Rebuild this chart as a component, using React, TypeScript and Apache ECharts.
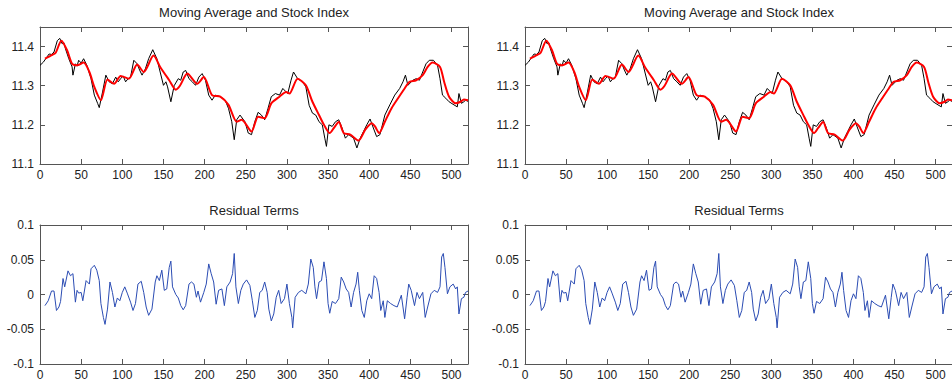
import React, { useEffect, useRef } from "react";
import * as echarts from "echarts";

// Stock index (black): [t, value]
const STOCK: [number, number][] = [
  [0, 11.352], [4, 11.36], [8, 11.372], [11, 11.381], [14, 11.38], [17, 11.386], [21, 11.415], [24, 11.421],
  [27, 11.407], [29, 11.41], [31, 11.394], [35, 11.369], [39, 11.348], [40, 11.327], [43, 11.356], [45, 11.35],
  [47, 11.365], [50, 11.358], [53, 11.369], [57, 11.352], [62, 11.318], [66, 11.276], [70, 11.255], [72, 11.244],
  [76, 11.284], [80, 11.327], [84, 11.31], [88, 11.305], [92, 11.322], [95, 11.31], [98, 11.318], [101, 11.325],
  [104, 11.31], [107, 11.318], [110, 11.322], [114, 11.365], [118, 11.356], [121, 11.34], [124, 11.327], [128, 11.343],
  [132, 11.369], [137, 11.392], [142, 11.369], [146, 11.335], [150, 11.301], [153, 11.31], [155, 11.297], [159, 11.259],
  [163, 11.3], [168, 11.318], [171, 11.314], [174, 11.335], [177, 11.339], [181, 11.318], [185, 11.31], [189, 11.301],
  [193, 11.322], [197, 11.331], [201, 11.314], [205, 11.276], [209, 11.263], [213, 11.276], [219, 11.272], [225, 11.263],
  [229, 11.242], [233, 11.208], [236, 11.162], [239, 11.213], [243, 11.225], [249, 11.208], [253, 11.179], [257, 11.175],
  [261, 11.208], [265, 11.232], [269, 11.225], [273, 11.213], [277, 11.242], [281, 11.272], [286, 11.28], [291, 11.276],
  [295, 11.293], [301, 11.28], [305, 11.314], [308, 11.335], [313, 11.318], [319, 11.31], [323, 11.297], [327, 11.25],
  [331, 11.23], [335, 11.225], [339, 11.208], [343, 11.2], [346, 11.166], [348, 11.145], [351, 11.2], [355, 11.196],
  [359, 11.208], [363, 11.213], [367, 11.192], [371, 11.166], [375, 11.175], [381, 11.166], [385, 11.141], [389, 11.166],
  [393, 11.183], [397, 11.2], [401, 11.215], [405, 11.192], [409, 11.17], [413, 11.175], [419, 11.225], [425, 11.251],
  [431, 11.276], [437, 11.293], [441, 11.31], [444, 11.327], [447, 11.301], [453, 11.314], [457, 11.318], [461, 11.314],
  [465, 11.335], [469, 11.356], [473, 11.365], [478, 11.365], [483, 11.352], [486, 11.318], [489, 11.276], [493, 11.268],
  [497, 11.259], [503, 11.251], [507, 11.246], [509, 11.28], [512, 11.255], [515, 11.259], [517, 11.263], [520, 11.26],
];

// Moving average (red)
const MOVING_AVG: [number, number][] = [
  [6, 11.369], [15, 11.379], [19, 11.384], [26, 11.415], [33, 11.39], [39, 11.356], [45, 11.352], [53, 11.359],
  [60, 11.335], [66, 11.297], [74, 11.263], [82, 11.316], [90, 11.305], [98, 11.325], [108, 11.318], [118, 11.354],
  [126, 11.335], [138, 11.377], [146, 11.348], [157, 11.314], [165, 11.29], [170, 11.3], [179, 11.331], [191, 11.305],
  [199, 11.322], [209, 11.276], [219, 11.272], [229, 11.251], [239, 11.208], [245, 11.213], [257, 11.183], [265, 11.221],
  [273, 11.217], [281, 11.255], [291, 11.272], [299, 11.284], [303, 11.28], [313, 11.318], [323, 11.301], [331, 11.259],
  [339, 11.225], [345, 11.2], [352, 11.179], [357, 11.192], [363, 11.207], [369, 11.179], [377, 11.175], [387, 11.16],
  [395, 11.187], [403, 11.204], [407, 11.196], [412, 11.179], [419, 11.208], [427, 11.242], [435, 11.268], [443, 11.293],
  [449, 11.31], [457, 11.314], [465, 11.327], [471, 11.348], [477, 11.359], [486, 11.348], [491, 11.31], [497, 11.272],
  [505, 11.255], [511, 11.259], [515, 11.265], [520, 11.263],
];

// Residual terms (blue)
const RESIDUALS: [number, number][] = [
  [6, -0.016], [10, -0.009], [14, 0.005], [17, 0.005], [20, -0.023], [23, -0.018], [25, -0.01], [28, 0.023],
  [30, 0.011], [34, 0.034], [37, 0.027], [40, 0.03], [43, -0.011], [45, 0.006], [47, 0.002], [50, 0.003],
  [52, -0.009], [56, 0.02], [60, 0.015], [62, 0.037], [66, 0.042], [69, 0.035], [72, 0.02], [74, -0.013],
  [77, -0.033], [79, -0.043], [82, -0.021], [85, 0.018], [88, 0.003], [91, -0.018], [94, -0.005], [97, -0.009],
  [100, 0.003], [103, 0.011], [106, 0.002], [110, -0.011], [113, -0.023], [116, -0.013], [119, 0.015], [123, 0.019],
  [126, 0.003], [129, -0.018], [132, -0.03], [136, -0.021], [140, 0.018], [142, 0.027], [145, 0.02], [148, 0.035],
  [151, 0.006], [154, 0.008], [157, 0.039], [159, 0.048], [161, 0.011], [165, 0.0], [168, -0.005], [171, -0.016],
  [174, -0.022], [177, -0.016], [181, 0.015], [184, 0.018], [187, 0.015], [190, -0.004], [192, 0.005], [195, -0.011],
  [199, 0.003], [202, 0.015], [205, 0.044], [208, 0.03], [211, 0.018], [214, -0.014], [217, 0.006], [221, 0.008],
  [224, -0.016], [227, 0.011], [231, 0.018], [234, 0.03], [236, 0.059], [238, 0.011], [241, -0.013], [244, 0.006],
  [247, 0.015], [251, 0.021], [255, 0.013], [258, -0.009], [261, -0.033], [264, -0.023], [267, 0.003], [270, 0.006],
  [273, 0.018], [276, 0.003], [278, -0.021], [281, -0.038], [284, -0.028], [287, -0.004], [290, 0.006], [293, -0.013],
  [297, -0.006], [300, 0.015], [303, -0.013], [306, -0.033], [307, -0.048], [310, -0.004], [314, 0.003], [318, 0.006],
  [323, 0.001], [326, 0.015], [329, 0.051], [332, 0.039], [334, 0.011], [336, -0.006], [339, 0.018], [342, 0.02],
  [345, 0.047], [348, 0.023], [350, -0.013], [352, -0.027], [355, -0.01], [359, -0.013], [363, -0.006], [366, 0.025],
  [369, 0.018], [372, 0.008], [375, 0.003], [378, -0.018], [381, 0.003], [384, 0.015], [386, 0.032], [388, 0.006],
  [391, -0.023], [394, -0.033], [397, -0.009], [400, 0.001], [403, -0.006], [406, 0.027], [409, 0.023], [412, 0.003],
  [414, -0.023], [417, -0.009], [419, -0.033], [422, -0.009], [426, -0.013], [430, -0.016], [434, -0.018], [439, -0.001],
  [443, -0.035], [446, -0.004], [448, 0.015], [451, 0.006], [455, -0.016], [458, 0.003], [461, -0.006], [465, 0.003],
  [468, -0.033], [471, -0.018], [475, 0.001], [479, 0.006], [483, 0.003], [486, 0.011], [488, 0.054], [490, 0.059],
  [492, 0.039], [495, 0.001], [498, 0.011], [502, 0.015], [505, 0.008], [507, 0.011], [509, -0.028], [512, -0.006],
  [515, -0.004], [517, 0.003], [520, 0.005],
];

const TITLE_TOP = "Moving Average and Stock Index";
const TITLE_BOTTOM = "Residual Terms";

export default function App() {
  const ref = useRef<HTMLDivElement>(null);
  useEffect(() => {
    if (!ref.current) return;
    const chart = echarts.init(ref.current, undefined, { renderer: "svg" });
    const font = "Liberation Sans, Arial, sans-serif";
    const axisColor = "#555";
    const textColor = "#222";
    const lefts = [40, 525];
    const W = 428;
    const rows = [
      { top: 27, height: 137, min: 11.1, max: 11.45, interval: 0.1 },
      { top: 225, height: 139, min: -0.1, max: 0.1, interval: 0.05 },
    ];
    const grid: any[] = [];
    const xAxis: any[] = [];
    const yAxis: any[] = [];
    const series: any[] = [];
    const graphic: any[] = [];
    let gi = 0;
    lefts.forEach((left) => {
      rows.forEach((r, ri) => {
        grid.push({ left, top: r.top, width: W, height: r.height, containLabel: false });
        const baseX = {
          gridIndex: gi, type: "value", min: 0, max: 520, interval: 50,
          axisLine: { show: true, onZero: false, lineStyle: { color: axisColor, width: 1 } },
          axisTick: { show: true, inside: true, length: 5, lineStyle: { color: axisColor } },
          splitLine: { show: false },
        };
        xAxis.push({
          ...baseX, position: "bottom",
          axisLabel: { show: true, color: textColor, fontSize: 12, fontFamily: font, margin: 5 },
        });
        xAxis.push({ ...baseX, position: "top", axisLabel: { show: false } });
        const baseY = {
          gridIndex: gi, type: "value", min: r.min, max: r.max, interval: r.interval,
          axisLine: { show: true, onZero: false, lineStyle: { color: axisColor, width: 1 } },
          axisTick: { show: true, inside: true, length: 5, lineStyle: { color: axisColor } },
          splitLine: { show: false },
        };
        yAxis.push({
          ...baseY, position: "left",
          axisLabel: {
            show: true, color: textColor, fontSize: 12, fontFamily: font, margin: 6,
            showMaxLabel: ri === 0 ? false : true,
            formatter: (v: number) => (ri === 0 ? v.toFixed(1) : String(Math.round(v * 100) / 100)),
          },
        });
        yAxis.push({ ...baseY, position: "right", axisLabel: { show: false } });
        const xi = gi * 2;
        if (ri === 0) {
          series.push({
            type: "line", xAxisIndex: xi, yAxisIndex: xi, data: STOCK, showSymbol: false,
            lineStyle: { color: "#000", width: 1 }, silent: true,
          });
          series.push({
            type: "line", xAxisIndex: xi, yAxisIndex: xi, data: MOVING_AVG, showSymbol: false, smooth: 0.25,
            lineStyle: { color: "#ff0000", width: 2 }, silent: true,
          });
        } else {
          series.push({
            type: "line", xAxisIndex: xi, yAxisIndex: xi, data: RESIDUALS, showSymbol: false,
            lineStyle: { color: "#2b4cb3", width: 1 }, silent: true,
          });
        }
        graphic.push({
          type: "text", x: left + W / 2, y: r.top - 15,
          style: {
            text: ri === 0 ? TITLE_TOP : TITLE_BOTTOM, fill: textColor, fontSize: 13, fontFamily: font,
            textAlign: "center", textVerticalAlign: "middle",
          },
        });
        gi++;
      });
    });
    chart.setOption({
      animation: false,
      backgroundColor: "#fff",
      grid, xAxis, yAxis, series, graphic,
    });
    return () => chart.dispose();
  }, []);
  return (
    <div
      ref={ref}
      style={{ position: "fixed", left: 0, top: 0, width: 952, height: 383, background: "#fff" }}
    />
  );
}
